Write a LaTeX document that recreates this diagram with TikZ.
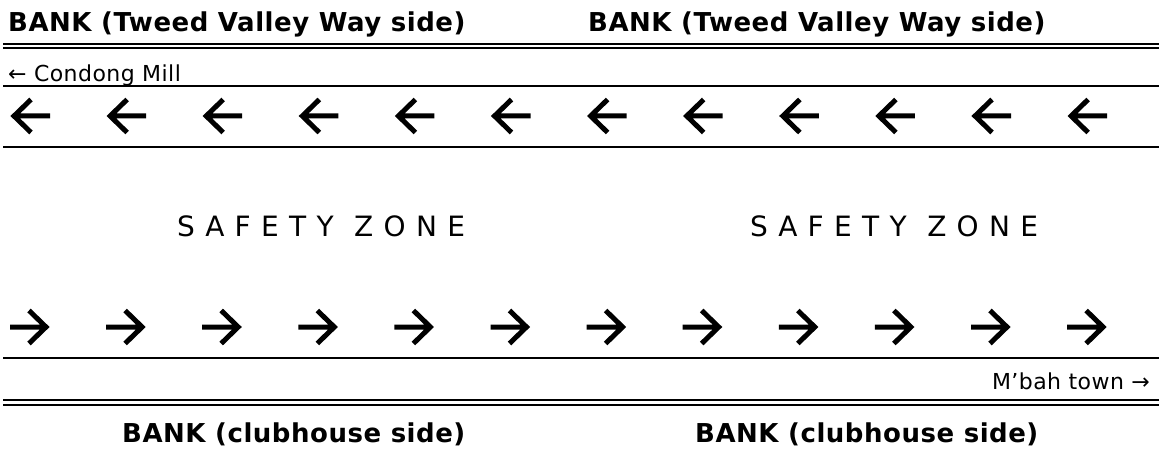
\documentclass[tikz,border=0pt]{standalone}
\usepackage{fontspec}
\setmainfont{DejaVu Sans}
\newfontfamily\bankfont[LetterSpace=2]{DejaVu Sans}
\newfontfamily\zonefont[LetterSpace=5]{DejaVu Sans}
\begin{document}
\begin{tikzpicture}[x=1pt,y=-1pt,
  bank/.style={font=\bankfont\fontsize{26}{30}\selectfont\bfseries,inner sep=0pt,anchor=base west},
  sign/.style={font=\bankfont\fontsize{22}{26}\selectfont,inner sep=0pt},
  zone/.style={font=\zonefont\fontsize{28}{32}\selectfont,inner sep=0pt,anchor=base west},
  rule/.style={line width=2pt},
  flow/.style={line width=5pt,line join=miter}]
\useasboundingbox (0,0) rectangle (1159,454);
% banks
\node[bank] (tvw1) at (8,32) {BANK (Tweed Valley Way side)};
\node[bank] (tvw2) at (588,32) {BANK (Tweed Valley Way side)};
\node[bank] (club1) at (122,442) {BANK (clubhouse side)};
\node[bank] (club2) at (695,442) {BANK (clubhouse side)};
\draw[rule] (3,44) -- (1159,44);
\draw[rule] (3,48.5) -- (1159,48.5);
\draw[rule] (3,400) -- (1159,400);
\draw[rule] (3,404.5) -- (1159,404.5);
% lanes
\node[sign,anchor=base west] (mill) at (8,82) {← Condong Mill};
\node[sign,anchor=base east] (town) at (1150,389) {M’bah town →};
\draw[rule] (3,86.5) -- (1159,86.5);
\draw[rule] (3,147.5) -- (1159,147.5);
\draw[rule] (3,358) -- (1159,358);
\foreach \i in {0,...,11}{
  \pgfmathsetmacro{\cx}{30+96.1*\i}
  \draw[flow] (\cx+20,116) -- (\cx-16,116) (\cx+1,99.5) -- (\cx-16,116) -- (\cx+1,132.5);
  \draw[flow] (\cx-20,327) -- (\cx+16,327) (\cx-1,310.5) -- (\cx+16,327) -- (\cx-1,343.5);
}
\node[zone] (zone1) at (177,237) {S A F E T Y \ Z O N E};
\node[zone] (zone2) at (750,237) {S A F E T Y \ Z O N E};
\end{tikzpicture}
\end{document}
